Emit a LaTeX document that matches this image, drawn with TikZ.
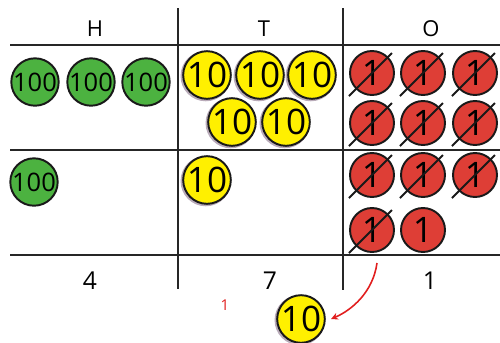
\documentclass[tikz,border=0pt]{standalone}
\usepackage{fontspec}
\usetikzlibrary{arrows.meta}
\setmainfont{Open Sans}
\definecolor{chipgreen}{RGB}{76,178,64}
\definecolor{chipyellow}{RGB}{255,240,0}
\definecolor{chipred}{RGB}{222,62,54}
\definecolor{markred}{RGB}{225,30,30}
\begin{document}
\begin{tikzpicture}[x=0.02cm,y=-0.02cm,
  gridline/.style={line width=1.6pt,black!85},
  chip/.style={circle,draw=black!90,line width=1.1pt,minimum size=0.88cm,inner sep=0pt},
  hundred/.style={chip,fill=chipgreen,font=\fontsize{14.5}{14.5}\selectfont},
  ten/.style={chip,fill=chipyellow,font=\fontsize{20}{20}\selectfont,
    preaction={draw=violet!20!gray!55,line width=1.6pt,transform canvas={shift={(-0.7pt,-0.6pt)}}}},
  one/.style={chip,fill=chipred,font=\fontsize{20}{20}\selectfont},
  crossline/.style={line width=1.1pt,black!90,shorten <=-5.5pt,shorten >=-3pt},
  head/.style={font=\fontsize{12.5}{12.5}\selectfont},
  total/.style={font=\fontsize{14}{14}\selectfont}]
\useasboundingbox (0,0) rectangle (500,342);

% place-value grid
\coordinate (hl1a) at (10,45);  \coordinate (hl1b) at (500,45);
\coordinate (hl2a) at (10,150); \coordinate (hl2b) at (500,150);
\coordinate (hl3a) at (10,255); \coordinate (hl3b) at (500,255);
\coordinate (vl1a) at (178,8);  \coordinate (vl1b) at (178,289);
\coordinate (vl2a) at (343,8);  \coordinate (vl2b) at (343,290);
\draw[gridline] (hl1a) -- (hl1b);
\draw[gridline] (hl2a) -- (hl2b);
\draw[gridline] (hl3a) -- (hl3b);
\draw[gridline] (vl1a) -- (vl1b);
\draw[gridline] (vl2a) -- (vl2b);

% column headings
\node[head] (hH) at (95,29) {H};
\node[head] (hT) at (264,29) {T};
\node[head] (hO) at (431,29) {O};

% first number
\node[hundred] (h1) at (35,82) {100};
\node[hundred] (h2) at (91,82) {100};
\node[hundred] (h3) at (146,82) {100};
\node[ten] (t1) at (207,75) {10};
\node[ten] (t2) at (260,75) {10};
\node[ten] (t3) at (312,75) {10};
\node[ten] (t4) at (232,122) {10};
\node[ten] (t5) at (286,122) {10};
\node[one] (o1) at (372,73) {1};
\node[one] (o2) at (423,73) {1};
\node[one] (o3) at (475,73) {1};
\node[one] (o4) at (372,123) {1};
\node[one] (o5) at (423,123) {1};
\node[one] (o6) at (475,123) {1};

% second number
\node[hundred] (h4) at (34,182) {100};
\node[ten] (t6) at (207,180) {10};
\node[one] (o7) at (372,175) {1};
\node[one] (o8) at (423,175) {1};
\node[one] (o9) at (475,175) {1};
\node[one] (o10) at (372,230) {1};
\node[one] (o11) at (423,230) {1};

% ones that were regrouped
\foreach \n in {o1,o2,o3,o4,o5,o6,o7,o8,o9,o10}
  \draw[crossline] (\n.225) -- (\n.45);

% totals
\node[total] (sH) at (90,281) {4};
\node[total] (sT) at (270,281) {7};
\node[total] (sO) at (430,281) {1};

% carried ten
\node[font=\fontsize{8.5}{8.5}\selectfont,text=markred] (carrymark) at (225,305) {1};
\node[ten] (carry) at (301,319) {10};
\coordinate (src) at (377,263);
\draw[markred,line width=0.9pt,-{Stealth[length=4pt,width=4pt]}]
  (src) .. controls (373,292) and (352,310) .. ([xshift=3pt]carry.east);
\end{tikzpicture}
\end{document}
